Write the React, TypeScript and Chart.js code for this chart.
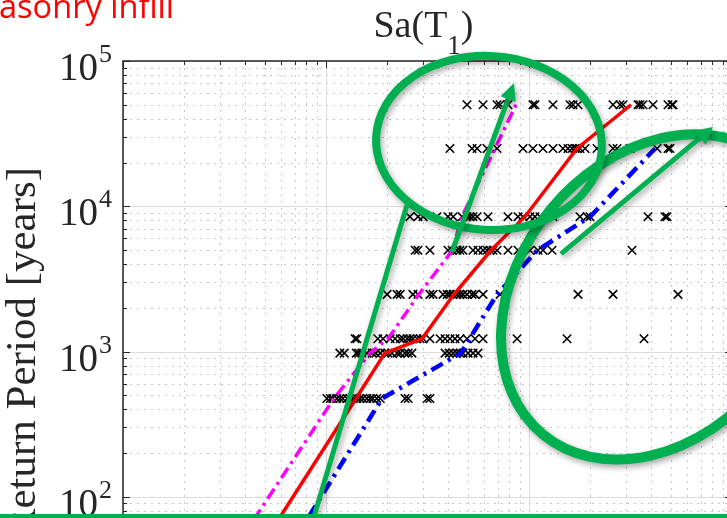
import { useEffect, useRef } from "react";
import { Chart, registerables } from "chart.js";

Chart.register(...registerables);

// Hazard levels (return period, years) at which records were selected
const recordPeriods = [475, 975, 1225, 2475, 4975, 8475, 24975, 49975];

// Sa(T1) [g] of the individual records, one array per hazard level
const saRp475 = [0.101, 0.105, 0.108, 0.113, 0.117, 0.121, 0.127, 0.131, 0.136, 0.142, 0.147, 0.152, 0.159, 0.165, 0.17, 0.178, 0.185, 0.245, 0.254, 0.315, 0.325];
const saRp975 = [0.117, 0.123, 0.141, 0.145, 0.15, 0.159, 0.169, 0.176, 0.185, 0.195, 0.202, 0.211, 0.224, 0.232, 0.245, 0.254, 0.265, 0.386, 0.404, 0.423, 0.442, 0.457, 0.473, 0.501, 0.53, 0.561];
const saRp1225 = [0.139, 0.142, 0.18, 0.191, 0.207, 0.219, 0.232, 0.24, 0.251, 0.259, 0.268, 0.281, 0.291, 0.301, 0.325, 0.365, 0.386, 0.408, 0.432, 0.457, 0.495, 0.542, 0.594, 0.873, 1.539, 3.687];
const saRp2475 = [0.2, 0.224, 0.232, 0.268, 0.284, 0.325, 0.337, 0.377, 0.395, 0.408, 0.423, 0.442, 0.457, 0.473, 0.495, 0.524, 0.542, 0.594, 0.72, 1.744, 2.593, 5.42];
const saRp4975 = [0.275, 0.284, 0.325, 0.399, 0.418, 0.442, 0.457, 0.473, 0.53, 0.561, 0.594, 0.621, 0.643, 0.665, 0.696, 0.788, 0.883, 1.011, 1.107, 1.172, 1.299, 3.217];
const saRp8475 = [0.259, 0.284, 0.301, 0.352, 0.399, 0.423, 0.468, 0.495, 0.512, 0.53, 0.555, 0.628, 0.788, 0.883, 0.934, 1.011, 1.07, 1.133, 1.227, 1.313, 1.783, 1.931, 1.998, 3.858, 4.677, 4.785];
const saRp24975 = [0.408, 0.524, 0.555, 0.621, 0.696, 0.934, 1.046, 1.172, 1.313, 1.47, 1.556, 1.629, 1.685, 1.724, 1.783, 1.888, 2.163, 2.593, 2.714, 3.145, 4.273, 4.839, 4.95];
const saRp49975 = [0.495, 0.594, 0.696, 0.72, 0.788, 1.046, 1.07, 1.313, 1.592, 1.647, 1.744, 2.593, 2.808, 2.906, 3.443, 3.523, 3.645, 4.083, 4.839, 5.063, 5.122];
const recordSa = [saRp475, saRp975, saRp1225, saRp2475, saRp4975, saRp8475, saRp24975, saRp49975];

// Summary curves: Sa(T1) [g] against return period
const curvePeriods = [50, 475, 975, 1225, 2475, 4975, 8475, 24975, 49975];
const redSa = [0.0501, 0.1405, 0.195, 0.297, 0.427, 0.65, 0.955, 1.724, 3.18];
const magentaSa = [0.0377, 0.1095, 0.1647, 0.202, 0.287, 0.42, 0.467, 0.68, 0.863];
const blueSa = [0.0696, 0.1888, 0.462, 0.51, 0.696, 1.1, 2.0, 4.18];

// Axis limits and decade labels
const xDecades = [-2, -1, 0, 1];
const yDecades = [1, 2, 3, 4, 5];

// Callout marks, anchored in (Sa [g], return period [years])
const ringSmall = { sa: 0.635, years: 27270, rx: 113, ry: 87, tilt: 0.06 };
const ringLarge = { sa: 4.22, years: 2376, rx: 178, ry: 137, tilt: -0.88 };
const arrowLeft = [[0.4175, 4848], [0.8435, 70580]];
const arrowRight = [[1.437, 4696], [8.06, 35140]];
const leaderLine = [[0.0863, 69.3], [0.2506, 10210]];

const W = 760;
const H = 660;
const INK = "#262626";
const SERIF = '"Liberation Serif", "Times New Roman", serif';
const GREEN = "#00B050";

function curve(sa: number[], periods: number[]) {
  return sa.map((v, i) => ({ x: v, y: periods[i] }));
}

const framePlugin = {
  id: "matlabFrame",
  beforeDatasetsDraw(chart: any) {
    const { ctx, chartArea: a, scales } = chart;
    const x = scales.x;
    const y = scales.y;
    ctx.save();
    ctx.beginPath();
    ctx.rect(a.left, a.top, a.right - a.left, a.bottom - a.top);
    ctx.clip();
    // minor grid (dotted)
    ctx.strokeStyle = "#c8c8c8";
    ctx.lineWidth = 1;
    ctx.setLineDash([2, 5]);
    for (const d of xDecades.slice(0, -1)) {
      for (let m = 2; m <= 9; m++) {
        const px = Math.round(x.getPixelForValue(m * Math.pow(10, d))) + 0.5;
        ctx.beginPath();
        ctx.moveTo(px, a.top);
        ctx.lineTo(px, a.bottom);
        ctx.stroke();
      }
    }
    for (const d of yDecades.slice(0, -1)) {
      for (let m = 2; m <= 9; m++) {
        const py = Math.round(y.getPixelForValue(m * Math.pow(10, d))) + 0.5;
        ctx.beginPath();
        ctx.moveTo(a.left, py);
        ctx.lineTo(a.right, py);
        ctx.stroke();
      }
    }
    // major grid (solid)
    ctx.setLineDash([]);
    ctx.strokeStyle = "#dcdcdc";
    for (const d of xDecades) {
      const px = Math.round(x.getPixelForValue(Math.pow(10, d))) + 0.5;
      ctx.beginPath();
      ctx.moveTo(px, a.top);
      ctx.lineTo(px, a.bottom);
      ctx.stroke();
    }
    for (const d of yDecades) {
      const py = Math.round(y.getPixelForValue(Math.pow(10, d))) + 0.5;
      ctx.beginPath();
      ctx.moveTo(a.left, py);
      ctx.lineTo(a.right, py);
      ctx.stroke();
    }
    ctx.restore();
  },
  afterDatasetsDraw(chart: any) {
    const { ctx, chartArea: a, scales } = chart;
    const x = scales.x;
    const y = scales.y;
    ctx.save();

    // axes box
    ctx.strokeStyle = INK;
    ctx.lineWidth = 1.5;
    ctx.strokeRect(a.left, a.top, a.right - a.left, a.bottom - a.top);

    // ticks pointing inward
    ctx.lineWidth = 1;
    const tick = (x0: number, y0: number, x1: number, y1: number) => {
      ctx.beginPath();
      ctx.moveTo(x0, y0);
      ctx.lineTo(x1, y1);
      ctx.stroke();
    };
    for (const d of yDecades) {
      for (let m = 1; m <= 9; m++) {
        const v = m * Math.pow(10, d);
        if (v > 100000) break;
        const py = Math.round(y.getPixelForValue(v)) + 0.5;
        const len = m === 1 ? 7 : 4;
        tick(a.left, py, a.left + len, py);
        tick(a.right, py, a.right - len, py);
      }
    }
    for (const d of xDecades) {
      for (let m = 1; m <= 9; m++) {
        const v = m * Math.pow(10, d);
        if (v > 10) break;
        const px = Math.round(x.getPixelForValue(v)) + 0.5;
        const len = m === 1 ? 7 : 4;
        tick(px, a.top, px, a.top + len);
        tick(px, a.bottom, px, a.bottom - len);
      }
    }

    // y tick labels 10^k
    ctx.fillStyle = INK;
    for (const d of yDecades) {
      const py = y.getPixelForValue(Math.pow(10, d));
      ctx.font = `39px ${SERIF}`;
      ctx.textAlign = "right";
      ctx.textBaseline = "alphabetic";
      ctx.fillText("10", 98, py + 19);
      ctx.font = `26px ${SERIF}`;
      ctx.textAlign = "left";
      ctx.fillText(String(d), 99, py + 1);
    }

    // title Sa(T1)
    ctx.textAlign = "left";
    ctx.font = `38px ${SERIF}`;
    const part1 = "Sa(T";
    const w1 = ctx.measureText(part1).width;
    const w3 = ctx.measureText(")").width;
    ctx.font = `27px ${SERIF}`;
    const w2 = ctx.measureText("1").width;
    const tx = (a.left + a.right) / 2 - (w1 + w2 + w3) / 2 - 4;
    ctx.font = `38px ${SERIF}`;
    ctx.fillText(part1, tx, 37);
    ctx.fillText(")", tx + w1 + w2, 37);
    ctx.font = `27px ${SERIF}`;
    ctx.fillText("1", tx + w1, 54);

    // y axis title
    ctx.save();
    ctx.font = `43px ${SERIF}`;
    const ylab = "Return Period [years]";
    const yw = ctx.measureText(ylab).width;
    ctx.translate(35, 167 + yw / 2);
    ctx.rotate(-Math.PI / 2);
    ctx.textAlign = "center";
    ctx.fillText(ylab, 0, 0);
    ctx.restore();

    // red caption at the top left
    ctx.save();
    ctx.fillStyle = "#FF0000";
    ctx.font = '32px "Open Sans", sans-serif';
    const cap = "asonry infill";
    const cw = ctx.measureText(cap).width;
    ctx.translate(-1, 18);
    ctx.scale(175 / cw, 1);
    ctx.textAlign = "left";
    ctx.fillText(cap, 0, 0);
    ctx.restore();

    // green callouts
    ctx.shadowColor = "rgba(0,0,0,0.35)";
    ctx.shadowBlur = 6;
    ctx.shadowOffsetX = 2;
    ctx.shadowOffsetY = 3;
    ctx.strokeStyle = GREEN;
    ctx.fillStyle = GREEN;
    ctx.lineCap = "butt";

    const ring = (r: any, lw: number) => {
      ctx.lineWidth = lw;
      ctx.beginPath();
      ctx.ellipse(x.getPixelForValue(r.sa), y.getPixelForValue(r.years), r.rx, r.ry, r.tilt, 0, Math.PI * 2);
      ctx.stroke();
    };
    const toPx = (p: number[]) => [x.getPixelForValue(p[0]), y.getPixelForValue(p[1])];
    const arrow = (seg: number[][], head: number, half: number) => {
      const [x0, y0] = toPx(seg[0]);
      const [x1, y1] = toPx(seg[1]);
      const ang = Math.atan2(y1 - y0, x1 - x0);
      const bx = x1 - head * Math.cos(ang);
      const by = y1 - head * Math.sin(ang);
      ctx.lineWidth = 5;
      ctx.beginPath();
      ctx.moveTo(x0, y0);
      ctx.lineTo(bx, by);
      ctx.stroke();
      ctx.beginPath();
      ctx.moveTo(x1, y1);
      ctx.lineTo(bx + half * Math.sin(ang), by - half * Math.cos(ang));
      ctx.lineTo(bx - half * Math.sin(ang), by + half * Math.cos(ang));
      ctx.closePath();
      ctx.fill();
    };

    ring(ringLarge, 10);
    ring(ringSmall, 8);
    {
      const [x0, y0] = toPx(leaderLine[0]);
      const [x1, y1] = toPx(leaderLine[1]);
      ctx.lineWidth = 5;
      ctx.beginPath();
      ctx.moveTo(x0, y0);
      ctx.lineTo(x1, y1);
      ctx.stroke();
    }
    arrow(arrowLeft, 17, 8);
    arrow(arrowRight, 17, 9);

    ctx.shadowColor = "transparent";
    ctx.fillRect(0, 514, W, 6);
    ctx.restore();
  },
};

export default function App() {
  const ref = useRef<HTMLCanvasElement | null>(null);

  useEffect(() => {
    if (!ref.current) return;
    const scatterData: { x: number; y: number }[] = [];
    recordSa.forEach((row, i) => row.forEach((v) => scatterData.push({ x: v, y: recordPeriods[i] })));

    const chart = new Chart(ref.current, {
      type: "scatter",
      data: {
        datasets: [
          {
            type: "line",
            data: curve(redSa, curvePeriods),
            borderColor: "#FF0000",
            borderWidth: 3.5,
            pointRadius: 0,
            tension: 0,
            order: 0,
          },
          {
            type: "line",
            data: curve(magentaSa, curvePeriods),
            borderColor: "#FF00FF",
            borderWidth: 3.5,
            borderDash: [12, 5, 3, 5],
            pointRadius: 0,
            tension: 0,
            order: 1,
          },
          {
            type: "line",
            data: curve(blueSa, curvePeriods),
            borderColor: "#0000FF",
            borderWidth: 4.5,
            borderDash: [13, 6, 3, 6],
            pointRadius: 0,
            tension: 0,
            order: 2,
          },
          {
            type: "scatter",
            data: scatterData,
            pointStyle: "crossRot",
            pointRadius: 6,
            pointBorderWidth: 1.6,
            borderColor: "#000000",
            backgroundColor: "#000000",
            order: 3,
          },
        ],
      } as any,
      options: {
        animation: false,
        responsive: false,
        devicePixelRatio: 1,
        events: [],
        layout: { padding: { top: 61, right: W - 732, left: 0, bottom: 0 } },
        plugins: { legend: { display: false }, tooltip: { enabled: false } },
        scales: {
          x: {
            type: "logarithmic",
            min: 0.01,
            max: 10,
            ticks: { display: false },
            grid: { display: false },
            border: { display: false },
            afterFit: (s: any) => {
              s.height = H - 642;
            },
          },
          y: {
            type: "logarithmic",
            min: 10,
            max: 100000,
            ticks: { display: false },
            grid: { display: false },
            border: { display: false },
            afterFit: (s: any) => {
              s.width = 123;
            },
          },
        },
      } as any,
      plugins: [framePlugin],
    });
    return () => chart.destroy();
  }, []);

  return (
    <div
      style={{
        position: "fixed",
        left: 0,
        top: 0,
        width: 727,
        height: 518,
        overflow: "hidden",
        background: "#ffffff",
      }}
    >
      <canvas ref={ref} width={W} height={H} style={{ display: "block", width: W, height: H }} />
    </div>
  );
}
